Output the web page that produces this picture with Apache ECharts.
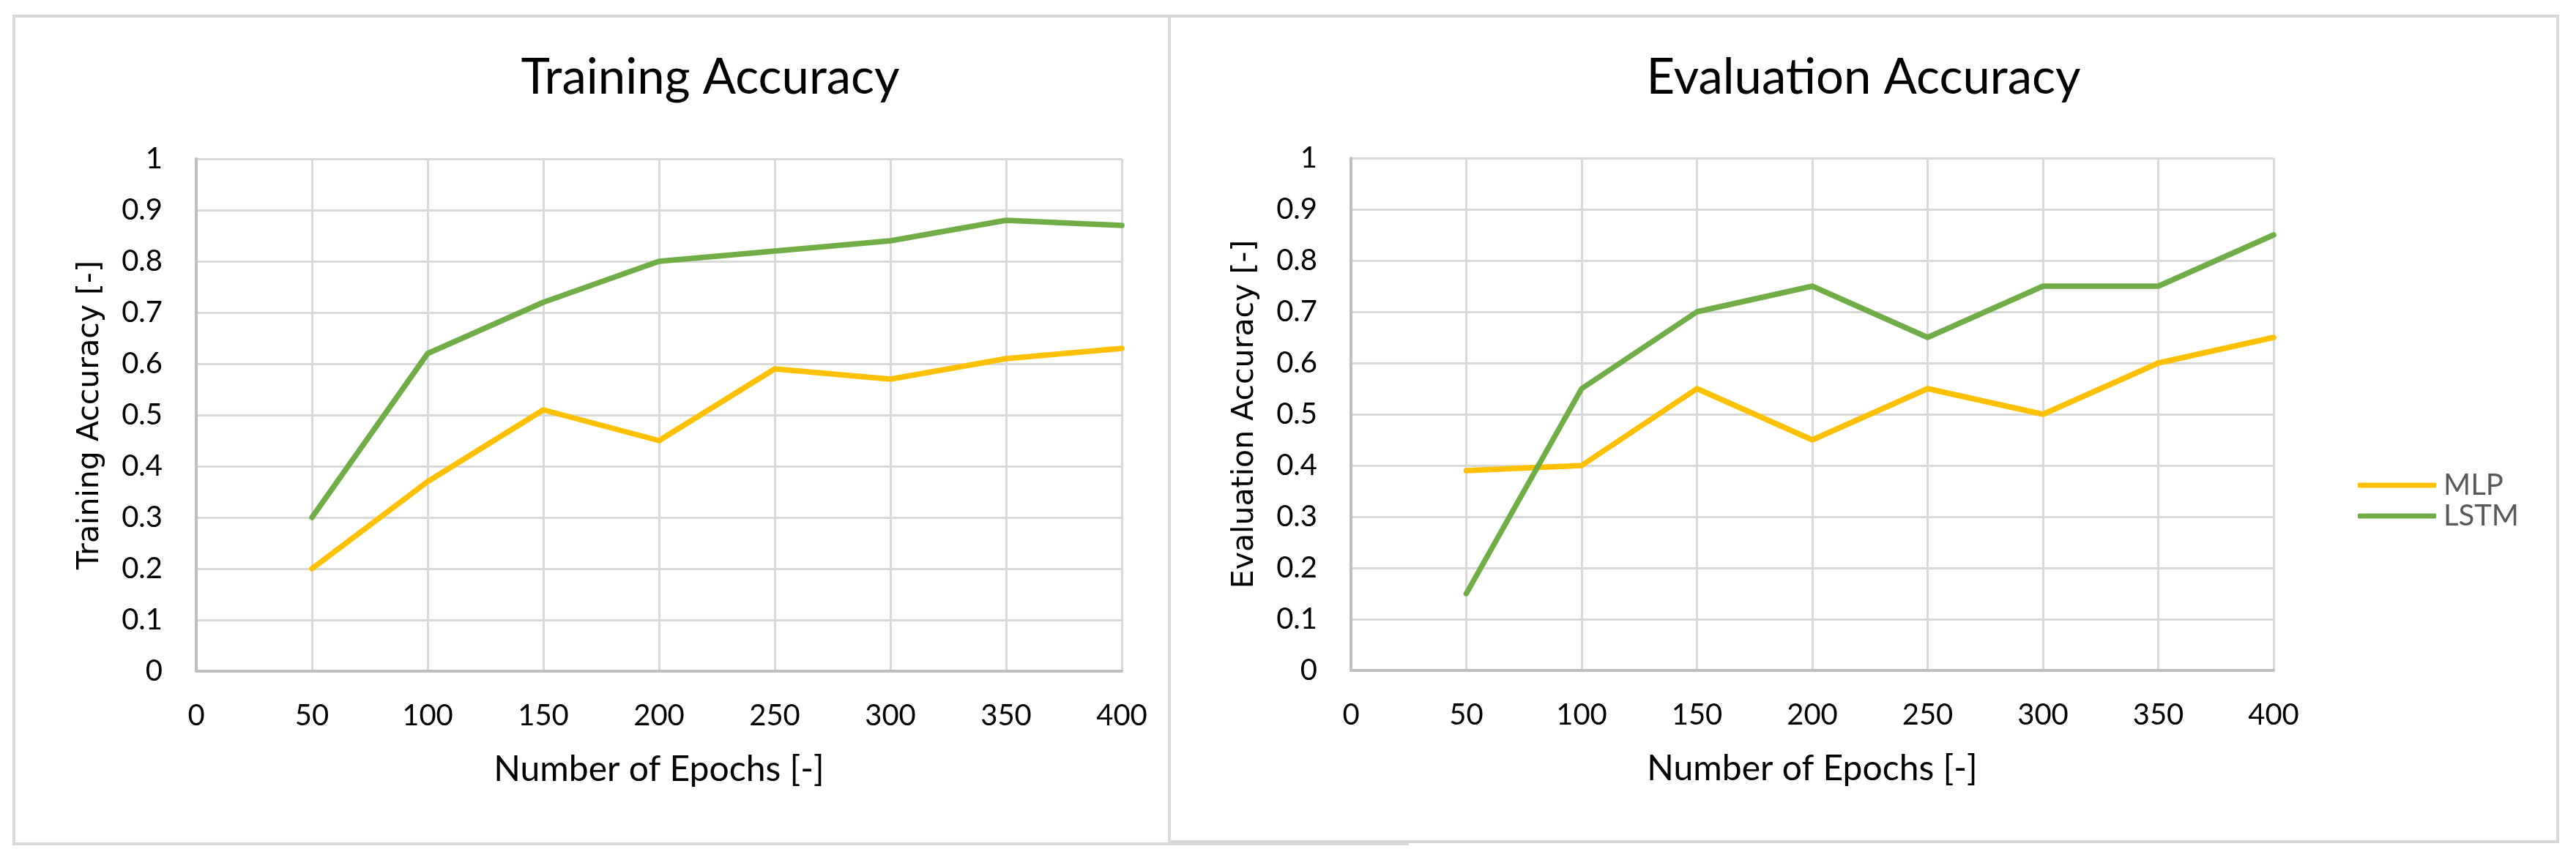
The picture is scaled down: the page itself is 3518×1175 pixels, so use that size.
<!DOCTYPE html>
<html>
<head>
<meta charset="utf-8">
<script src="https://cdn.jsdelivr.net/npm/echarts@6/dist/echarts.min.js"></script>
<style>
  html, body { margin: 0; padding: 0; background: #ffffff; }
  #chart { width: 3518px; height: 1175px; }
</style>
</head>
<body>
<div id="chart"></div>
<script>
// ---- data ----
const epochs = [50, 100, 150, 200, 250, 300, 350, 400];
const trainMLP  = [0.20, 0.37, 0.51, 0.45, 0.59, 0.57, 0.61, 0.63];
const trainLSTM = [0.30, 0.62, 0.72, 0.80, 0.82, 0.84, 0.88, 0.87];
const evalMLP   = [0.39, 0.40, 0.55, 0.45, 0.55, 0.50, 0.60, 0.65];
const evalLSTM  = [0.15, 0.55, 0.70, 0.75, 0.65, 0.75, 0.75, 0.85];
const xTickLabels = ['0', '50', '100', '150', '200', '250', '300', '350', '400'];
const yTickLabels = ['0', '0.1', '0.2', '0.3', '0.4', '0.5', '0.6', '0.7', '0.8', '0.9', '1'];
const titles = ['Training Accuracy', 'Evaluation Accuracy'];
const yNames = ['Training Accuracy [-]', 'Evaluation Accuracy [-]'];
const xName = 'Number of Epochs [-]';
const seriesNames = ['MLP', 'LSTM'];

const pairs = (vals) => epochs.map((e, i) => [e, vals[i]]);

const COL_MLP = '#FFC000';
const COL_LSTM = '#70AD47';
const GRID_COL = '#D9D9D9';
const AXIS_COL = '#BFBFBF';
const NUM_FONT = 'Lato';

const chart = echarts.init(document.getElementById('chart'), null, { renderer: 'canvas' });

function xAxisFor(idx) {
  return {
    gridIndex: idx, type: 'value', min: 0, max: 400, interval: 50,
    name: xName, nameLocation: 'middle', nameGap: 111,
    nameTextStyle: { fontFamily: NUM_FONT, fontSize: 48, color: '#000' },
    axisLine: { show: true, lineStyle: { color: AXIS_COL, width: 4 } },
    axisTick: { show: false },
    axisLabel: { margin: 41, fontFamily: NUM_FONT, fontSize: 40, color: '#000',
      formatter: (v, i) => xTickLabels[i] },
    splitLine: { show: true, lineStyle: { color: GRID_COL, width: 3 } }
  };
}
function yAxisFor(idx) {
  return {
    gridIndex: idx, type: 'value', min: 0, max: 1, interval: 0.1,
    name: yNames[idx], nameLocation: 'middle', nameGap: 124,
    nameTextStyle: { fontFamily: 'DejaVu Sans', fontSize: 41, color: '#000' },
    axisLine: { show: true, lineStyle: { color: AXIS_COL, width: 4 } },
    axisTick: { show: false },
    axisLabel: { margin: 46, fontFamily: NUM_FONT, fontSize: 40, color: '#000',
      formatter: (v, i) => yTickLabels[i] },
    splitLine: { show: true, lineStyle: { color: GRID_COL, width: 3 } }
  };
}
function lineSeries(name, idx, vals, color) {
  return {
    name: name, type: 'line', xAxisIndex: idx, yAxisIndex: idx,
    data: pairs(vals), symbol: 'none', smooth: false,
    lineStyle: { color: color, width: 7.5, cap: 'round', join: 'round' },
    itemStyle: { color: color },
    emphasis: { disabled: true }, animation: false
  };
}

const option = {
  backgroundColor: '#ffffff',
  animation: false,
  graphic: [
    { type: 'rect', z: -100, silent: true,
      shape: { x: 19, y: 22, width: 1903, height: 1131 },
      style: { fill: '#ffffff', stroke: GRID_COL, lineWidth: 4 } },
    { type: 'rect', z: -99, silent: true,
      shape: { x: 1597, y: 22, width: 1896, height: 1128 },
      style: { fill: '#ffffff', stroke: GRID_COL, lineWidth: 4 } }
  ],
  title: [
    { text: titles[0], left: 970, top: 73, textAlign: 'center', padding: 0,
      textStyle: { fontFamily: NUM_FONT, fontSize: 67, fontWeight: 'normal', color: '#000' } },
    { text: titles[1], left: 2545, top: 73, textAlign: 'center', padding: 0,
      textStyle: { fontFamily: NUM_FONT, fontSize: 67, fontWeight: 'normal', color: '#000' } }
  ],
  legend: {
    data: seriesNames, orient: 'vertical', left: 3220, top: 643, padding: 0,
    itemWidth: 107, itemHeight: 7, itemGap: 2, icon: 'roundRect',
    selectedMode: false,
    textStyle: { fontFamily: NUM_FONT, fontSize: 40, color: '#595959', lineHeight: 40,
      padding: [0, 0, 0, 5] }
  },
  grid: [
    { left: 268, top: 217, width: 1264, height: 700, containLabel: false },
    { left: 1845, top: 216, width: 1260, height: 700, containLabel: false }
  ],
  xAxis: [xAxisFor(0), xAxisFor(1)],
  yAxis: [yAxisFor(0), yAxisFor(1)],
  series: [
    lineSeries(seriesNames[0], 0, trainMLP, COL_MLP),
    lineSeries(seriesNames[1], 0, trainLSTM, COL_LSTM),
    lineSeries(seriesNames[0], 1, evalMLP, COL_MLP),
    lineSeries(seriesNames[1], 1, evalLSTM, COL_LSTM)
  ]
};
chart.setOption(option);
</script>
</body>
</html>
